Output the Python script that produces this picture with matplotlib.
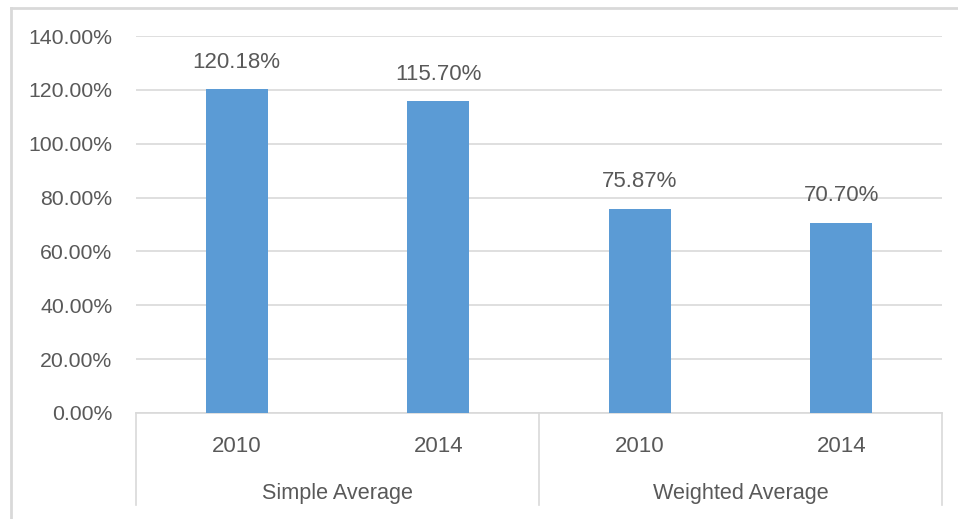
import matplotlib.pyplot as plt
from matplotlib.lines import Line2D
import numpy as np

# values
groups = ['Simple Average', 'Weighted Average']
years = ['2010', '2014', '2010', '2014']
values = [120.18, 115.70, 75.87, 70.70]
yticks = [0, 20, 40, 60, 80, 100, 120, 140]

bar_color = '#5B9BD5'
text_color = '#595959'
grid_color = '#D9D9D9'

plt.rcParams['font.family'] = ['Liberation Sans', 'DejaVu Sans']

fig = plt.figure(figsize=(9.58, 5.19), dpi=100)
ax = fig.add_axes([136 / 958, 1 - 413 / 519, 806 / 958, 377 / 519])

x = np.arange(len(values))
ax.bar(x, values, width=0.31, color=bar_color, zorder=3)
for xi, v in zip(x, values):
    ax.annotate(f'{v:.2f}%', (xi, v), xytext=(0, 19.5), textcoords='offset points',
                ha='center', va='center', fontsize=16, color=text_color)

ax.set_xlim(-0.5, len(values) - 0.5)
ax.set_ylim(0, 140)
ax.set_yticks(yticks)
ax.set_yticklabels([f'{t:.2f}%' for t in yticks], fontsize=15.3, color=text_color)
ax.yaxis.grid(True, color=grid_color, linewidth=1.2, zorder=0)
ax.tick_params(axis='y', length=0, pad=17)
ax.set_xticks([])
for s in ['top', 'right', 'left']:
    ax.spines[s].set_visible(False)
ax.spines['bottom'].set_color(grid_color)
ax.spines['bottom'].set_linewidth(1.2)

# two-level category axis
for xi, yr in zip(x, years):
    ax.text(xi, -0.09, yr, transform=ax.get_xaxis_transform(), ha='center', va='center',
            fontsize=16, color=text_color)
for gi, g in enumerate(groups):
    ax.text(0.25 + 0.5 * gi, -0.213, g, transform=ax.transAxes, ha='center', va='center',
            fontsize=15.6, color=text_color)
for sx in [0, 0.5, 1]:
    ax.add_line(Line2D([sx, sx], [0, -0.245], transform=ax.transAxes, color=grid_color,
                       linewidth=1.2, clip_on=False))

# chart area border (left and top visible in the screenshot)
fig.add_artist(Line2D([11 / 958, 11 / 958], [0, 1 - 8 / 519], transform=fig.transFigure,
                      color=grid_color, linewidth=2))
fig.add_artist(Line2D([11 / 958, 1], [1 - 8 / 519, 1 - 8 / 519], transform=fig.transFigure,
                      color=grid_color, linewidth=2))

fig.savefig('out.png', dpi=100, facecolor='white')
